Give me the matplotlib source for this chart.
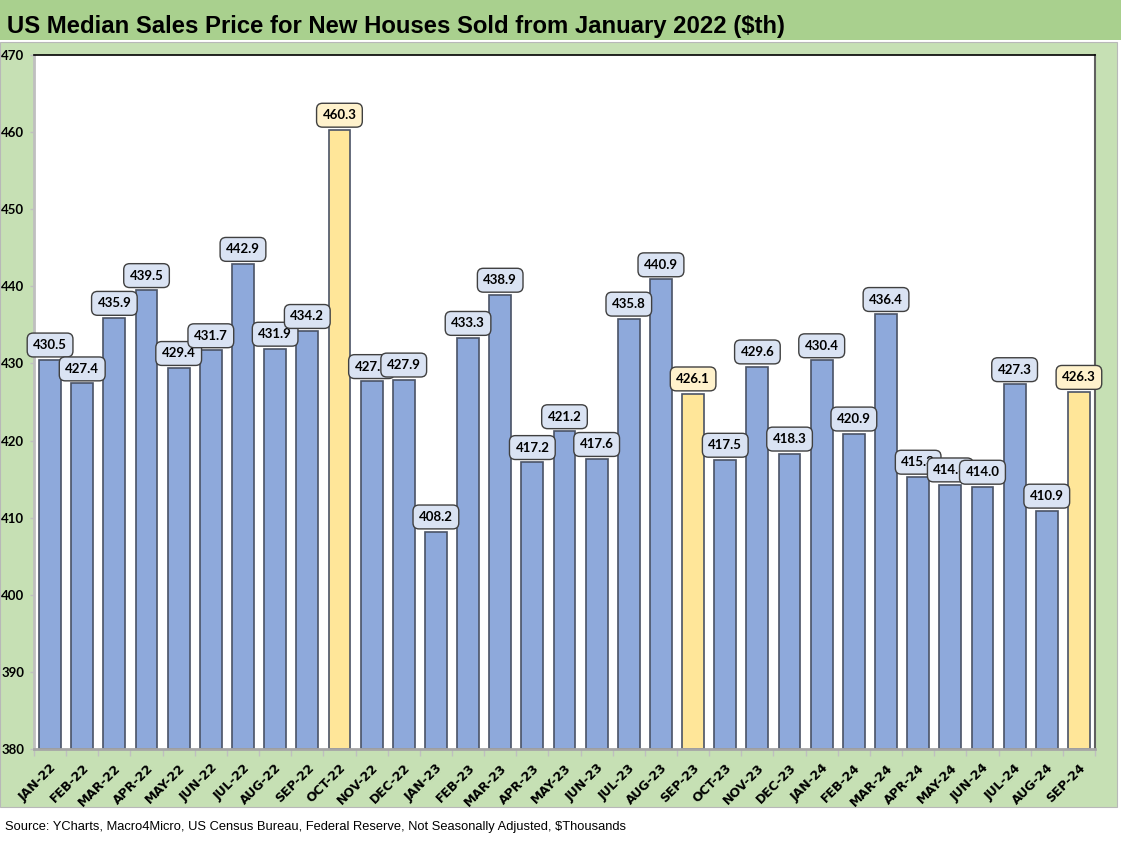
import matplotlib
matplotlib.use("Agg")
import matplotlib.pyplot as plt
from matplotlib.patches import Rectangle

months = ["JAN-22", "FEB-22", "MAR-22", "APR-22", "MAY-22", "JUN-22", "JUL-22", "AUG-22",
          "SEP-22", "OCT-22", "NOV-22", "DEC-22", "JAN-23", "FEB-23", "MAR-23", "APR-23",
          "MAY-23", "JUN-23", "JUL-23", "AUG-23", "SEP-23", "OCT-23", "NOV-23", "DEC-23",
          "JAN-24", "FEB-24", "MAR-24", "APR-24", "MAY-24", "JUN-24", "JUL-24", "AUG-24",
          "SEP-24"]
prices = [430.5, 427.4, 435.9, 439.5, 429.4, 431.7, 442.9, 431.9,
          434.2, 460.3, 427.7, 427.9, 408.2, 433.3, 438.9, 417.2,
          421.2, 417.6, 435.8, 440.9, 426.1, 417.5, 429.6, 418.3,
          430.4, 420.9, 436.4, 415.3, 414.3, 414.0, 427.3, 410.9,
          426.3]
highlight = ["OCT-22", "SEP-23", "SEP-24"]
y_ticks = [380, 390, 400, 410, 420, 430, 440, 450, 460, 470]

title = "US Median Sales Price for New Houses Sold from January 2022 (\\$th)"
source = "Source: YCharts, Macro4Micro, US Census Bureau, Federal Reserve, Not Seasonally Adjusted, \\$Thousands"

W, H = 1121, 848
fig = plt.figure(figsize=(W / 100, H / 100), dpi=100)
fig.patch.set_facecolor("white")

# background bands
fig.patches.append(Rectangle((0, 1 - 40 / H), 1, 40 / H, transform=fig.transFigure,
                             facecolor="#A9D08E", edgecolor="none", zorder=-2))
fig.patches.append(Rectangle((0, 1 - 807 / H), 1117 / W, (807 - 42) / H, transform=fig.transFigure,
                             facecolor="#C6E0B4", edgecolor="#B8B8B8", linewidth=0.8, zorder=-2))

fig.text(7 / W, 1 - 27 / H, title, fontsize=17.2, fontweight="bold", family="Liberation Sans",
         ha="left", va="center", color="black")
fig.text(5 / W, 1 - 827 / H, source, fontsize=9.3, family="Liberation Sans",
         ha="left", va="center", color="black")

left, right, top, bottom = 34, 1095, 55, 749
ax = fig.add_axes([left / W, 1 - bottom / H, (right - left) / W, (bottom - top) / H])
ax.set_facecolor("white")

x = list(range(len(months)))
colors = ["#FFE699" if m in highlight else "#8EA9DB" for m in months]
box_colors = ["#FFF2CC" if m in highlight else "#DAE3F3" for m in months]
ax.bar(x, [p - 380 for p in prices], bottom=380, width=0.68, color=colors,
       edgecolor="#4A5366", linewidth=1.2, zorder=2)

for i, (xi, p) in enumerate(zip(x, prices)):
    ax.annotate(f"{p:.1f}", xy=(xi, p), xytext=(0, 10.5), textcoords="offset points",
                ha="center", va="center", fontsize=9.5, fontweight="bold", family="Lato",
                color="black", zorder=5 + i,
                bbox=dict(boxstyle="round,pad=0.45,rounding_size=0.45", facecolor=box_colors[i],
                          edgecolor="#404040", linewidth=1.0))

ax.set_xlim(-0.5, len(months) - 0.5)
ax.set_ylim(380, 470)
ax.set_yticks(y_ticks)
ax.set_yticklabels([str(v) for v in y_ticks], fontsize=9.5, fontweight="bold", family="Lato")
ax.tick_params(axis="y", length=3, width=1, color="#BFBFBF", pad=4)

ax.set_xticks(x)
ax.set_xticklabels(months, rotation=45, ha="right", va="top", rotation_mode="anchor",
                   fontsize=9, fontweight="bold", family="DejaVu Sans")
ax.tick_params(axis="x", length=0, pad=9)
ax.set_xticks([i - 0.5 for i in range(len(months) + 1)], minor=True)
ax.tick_params(axis="x", which="minor", length=5, width=1, color="#BFBFBF")

ax.spines["top"].set_color("black")
ax.spines["top"].set_linewidth(1.2)
ax.spines["right"].set_color("#606060")
ax.spines["right"].set_linewidth(1.5)
ax.spines["left"].set_color("#BFBFBF")
ax.spines["left"].set_linewidth(2)
ax.spines["bottom"].set_color("#A6A6A6")
ax.spines["bottom"].set_linewidth(2)

fig.savefig("out.png", dpi=100)
